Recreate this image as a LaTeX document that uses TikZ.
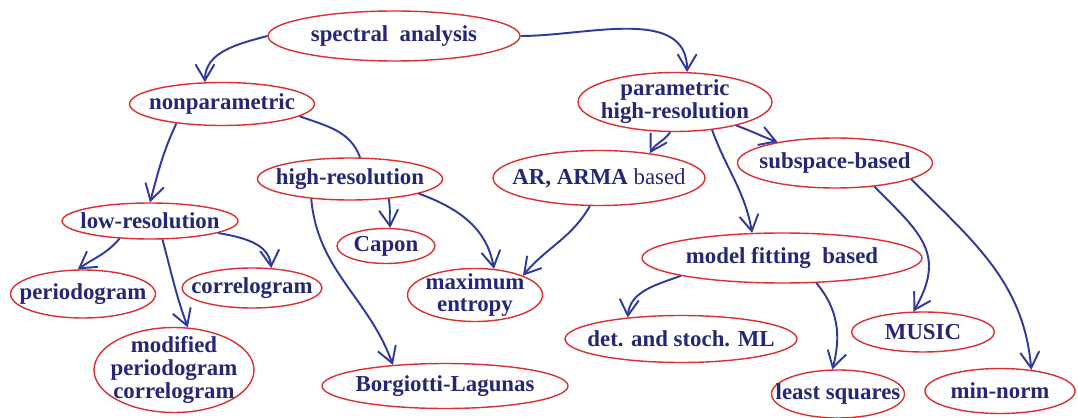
\documentclass[tikz,border=0pt]{standalone}
\usepackage{fontspec}
\setmainfont{Liberation Serif}
\usetikzlibrary{shapes.geometric,arrows.meta}
\definecolor{inkred}{RGB}{218,48,48}
\definecolor{inkblue}{RGB}{48,58,158}
\definecolor{textblue}{RGB}{38,38,118}

\begin{document}
\begin{tikzpicture}[x=0.02cm, y=-0.02cm,
  bubble/.style={draw=inkred, line width=0.8pt, ellipse, inner sep=-1cm, text=textblue,
    font=\fontsize{13}{13}\selectfont\bfseries, align=center},
  wire/.style={draw=inkblue, line width=1.1pt},
  link/.style={wire, arrows={-Straight Barb[length=3.2mm,width=3.8mm]}}]
\useasboundingbox (0,0) rectangle (1078,418);
\node (spectral)[bubble, minimum width=5.04cm, minimum height=1cm] at (394,36) {spectral\ \ analysis};
\node (nonpar)[bubble, minimum width=3.7cm, minimum height=0.86cm] at (222,104) {nonparametric};
\node (highres)[bubble, minimum width=3.7cm, minimum height=0.84cm] at (350,179) {high-resolution};
\node (lowres)[bubble, minimum width=3.52cm, minimum height=0.72cm] at (150,221) {low-resolution};
\node (perio)[bubble, minimum width=2.9cm, minimum height=0.96cm] at (83,294) {periodogram};
\node (correl)[bubble, minimum width=2.8cm, minimum height=0.8cm] at (252,288) {correlogram};
\node (modif)[bubble, minimum width=3.2cm, minimum height=1.7cm] at (174,370) {modified\\periodogram\\correlogram};
\node (capon)[bubble, minimum width=1.96cm, minimum height=0.7cm] at (386,246) {Capon};
\node (maxent)[bubble, minimum width=2.7cm, minimum height=1.06cm] at (475,295) {maximum\\entropy};
\node (borg)[bubble, minimum width=4.92cm, minimum height=0.9cm] at (445,386) {Borgiotti-Lagunas};
\node (param)[bubble, minimum width=3.88cm, minimum height=1.18cm] at (675,102) {parametric\\high-resolution};
\node (arma)[bubble, minimum width=4.24cm, minimum height=1.1cm] at (599,178) {AR, ARMA \mdseries based};
\node (subsp)[bubble, minimum width=3.9cm, minimum height=1cm] at (835,163) {subspace-based};
\node (model)[bubble, minimum width=5.6cm, minimum height=1cm] at (782,258) {model fitting\ \ based};
\node (detml)[bubble, minimum width=4.64cm, minimum height=0.94cm] at (681,339) {det. and stoch. ML};
\node (music)[bubble, minimum width=2.86cm, minimum height=0.8cm] at (923,332) {MUSIC};
\node (lsq)[bubble, minimum width=2.66cm, minimum height=0.96cm] at (838,394) {least squares};
\node (minnorm)[bubble, minimum width=3cm, minimum height=0.9cm] at (1000,391) {min-norm};
% top level
\draw[link] (spectral.west) to[out=195, in=90] (nonpar.128);
\draw[link] (spectral.east) to[out=0, in=90] (param.68);
% nonparametric side
\draw[link] (nonpar.203) to[out=245, in=75] (lowres.north);
\draw[wire] (nonpar.351) to[out=-20, in=110] (highres.65);
\draw[link] (highres.333) to[out=-80, in=95] (capon.77);
\draw[link] (highres.348) to[out=-20, in=100] (maxent.54);
\draw[link] (highres.207) to[out=-85, in=110] (borg.158);
\draw[link] (lowres.210) to[out=230, in=35] (perio.102);
\draw[link] (lowres.304) to[out=-75, in=110] (modif.72);
\draw[link] (lowres.350) to[out=-10, in=95] (correl.46);
% parametric side
\draw[link] (param.261) to[out=235, in=60] (arma.26);
\draw[link] (param.339) to[out=-20, in=160] (subsp.160);
\draw[link] (param.323) to[out=-70, in=100] (model.140);
\draw[link] (arma.252) to[out=240, in=50] (maxent.22);
\draw[link] (subsp.329) to[out=-45, in=60, looseness=1.3] (music.115);
\draw[link] (subsp.348) to[out=-45, in=95] (minnorm.34);
\draw[link] (model.190) to[out=200, in=85] (detml.158);
\draw[link] (model.324) to[out=-50, in=75] (lsq.103);
\end{tikzpicture}
\end{document}
